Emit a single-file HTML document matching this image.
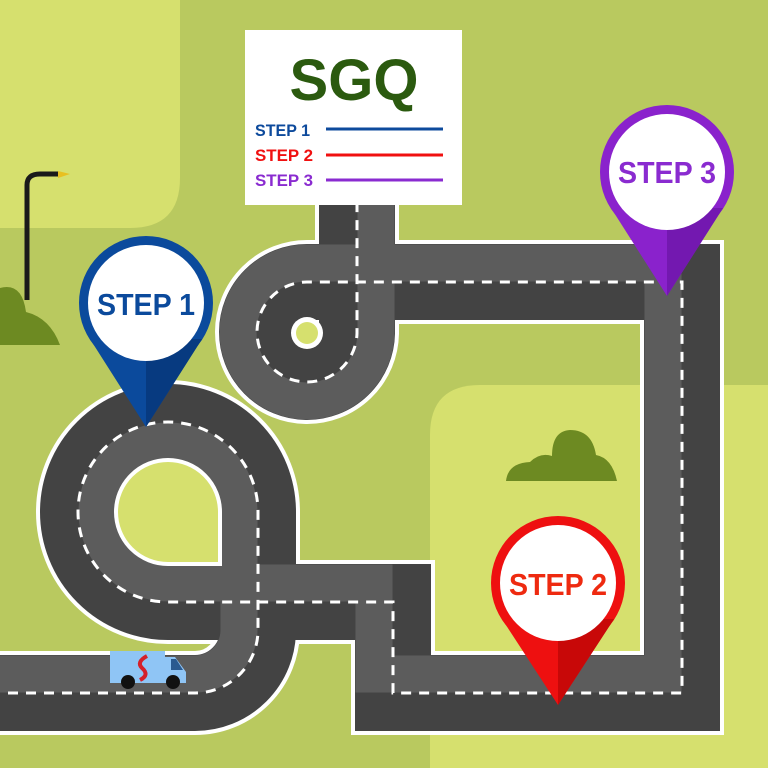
<!DOCTYPE html>
<html><head><meta charset="utf-8"><style>
html,body{margin:0;padding:0;width:768px;height:768px;overflow:hidden;background:#b9c95f}
svg{display:block}
text{font-family:"Liberation Sans",sans-serif;font-weight:bold}
</style></head><body>
<svg width="768" height="768" viewBox="0 0 768 768" xmlns="http://www.w3.org/2000/svg">
<rect width="768" height="768" fill="#b9c95f"/>
<path d="M0,0 H180 V178 Q180,228 130,228 H0 Z" fill="#d6e06e"/>
<path d="M430,768 V435 Q430,385 480,385 H768 V768 Z" fill="#d6e06e"/>
<!-- lamp -->
<path d="M27,300 V185 Q27,174 40,174 H60" fill="none" stroke="#1a1a1a" stroke-width="5"/>
<path d="M58,171 L70,174 L58,178 Z" fill="#e8c020"/>
<!-- left bush -->
<path d="M0,345 V288 Q22,282 26,312 Q50,318 60,345 Z" fill="#6d8a22"/>
<!-- right bush -->
<path d="M506,481 Q508,463 530,462 Q540,452 552,456 Q552,431 570,430 Q592,430 596,455 Q612,458 617,481 Z" fill="#6d8a22"/>
<!-- roads -->
<g fill="none" stroke-linejoin="miter">
<path d="M-10,693 H195 A63,63 0 0 0 258,630 V512 A90,90 0 1 0 168,602 H393 V693 H682 V282 H307 A50,50 0 1 0 357,333 V200" stroke="#fff" stroke-width="84"/>
<path d="M-10,693 H195 A63,63 0 0 0 258,630 V512 A90,90 0 1 0 168,602 H393 V693 H682 V282 H307 A50,50 0 1 0 357,333 V200" stroke="#434343" stroke-width="76"/>
<path d="M-10,674 H195 A44,44 0 0 0 239,630 V512 A71,71 0 1 0 168,583 H374 V674 H663 V263 H307 A69,69 0 1 0 376,333 V200" stroke="#5c5c5c" stroke-width="37"/>
<path d="M-10,693 H195 A63,63 0 0 0 258,630 V512 A90,90 0 1 0 168,602 H393 V693 H682 V282 H307 A50,50 0 1 0 357,333 V200" stroke="#fff" stroke-width="3" stroke-dasharray="10 8"/>
</g>
<!-- teardrop hole of the loop -->
<path d="M220,564 H168 A52,52 0 1 1 220,512 Z" fill="#d6e06e" stroke="#fff" stroke-width="4"/>
<circle cx="307" cy="333" r="16" fill="#fff"/>
<circle cx="307" cy="333" r="11" fill="#d6e06e"/>
<!-- truck -->
<rect x="110" y="651" width="55" height="32" fill="#8fc5f5"/>
<path d="M164,657 H175 L186,672 V683 H164 Z" fill="#8fc5f5"/>
<path d="M171,659 H176 L183,670 H171 Z" fill="#2a5a90"/>
<path d="M147,656 Q136,662 142,668 Q150,675 140,680" fill="none" stroke="#d4202a" stroke-width="4"/>
<circle cx="128" cy="682" r="7" fill="#111"/>
<circle cx="173" cy="682" r="7" fill="#111"/>
<!-- sign -->
<rect x="245" y="30" width="217" height="175" fill="#fff"/>
<text x="354" y="100" font-size="58" fill="#2b5a0f" text-anchor="middle">SGQ</text>
<text x="255" y="136" font-size="17" fill="#0d4a9c" textLength="55" lengthAdjust="spacingAndGlyphs">STEP 1</text>
<line x1="326" y1="129" x2="443" y2="129" stroke="#0d4a9c" stroke-width="3"/>
<text x="255" y="161" font-size="17" fill="#f01010" textLength="58" lengthAdjust="spacingAndGlyphs">STEP 2</text>
<line x1="326" y1="155" x2="443" y2="155" stroke="#f01010" stroke-width="3"/>
<text x="255" y="186" font-size="17" fill="#8a2bd0" textLength="58" lengthAdjust="spacingAndGlyphs">STEP 3</text>
<line x1="326" y1="180" x2="443" y2="180" stroke="#8a2bd0" stroke-width="3"/>
<!-- pins -->
<g>
<circle cx="146" cy="303" r="67" fill="#0b4a9c"/>
<polygon points="90,339 202,339 146,427" fill="#0b4a9c"/>
<polygon points="146,339 202,339 146,427" fill="#073a80"/>
<circle cx="146" cy="303" r="58" fill="#fff"/>
<text x="146" y="315" font-size="31" fill="#0b4a9c" text-anchor="middle" textLength="98" lengthAdjust="spacingAndGlyphs">STEP 1</text>
</g>
<g>
<circle cx="667" cy="172" r="67" fill="#8a22cc"/>
<polygon points="611,208 723,208 667,296" fill="#8a22cc"/>
<polygon points="667,208 723,208 667,296" fill="#7318b0"/>
<circle cx="667" cy="172" r="58" fill="#fff"/>
<text x="667" y="183" font-size="31" fill="#8a2bd0" text-anchor="middle" textLength="98" lengthAdjust="spacingAndGlyphs">STEP 3</text>
</g>
<g>
<circle cx="558" cy="583" r="67" fill="#ee1010"/>
<polygon points="502,619 614,619 558,705" fill="#ee1010"/>
<polygon points="558,619 614,619 558,705" fill="#c80808"/>
<circle cx="558" cy="583" r="58" fill="#fff"/>
<text x="558" y="595" font-size="31" fill="#ee2a10" text-anchor="middle" textLength="98" lengthAdjust="spacingAndGlyphs">STEP 2</text>
</g>
</svg>
</body></html>
